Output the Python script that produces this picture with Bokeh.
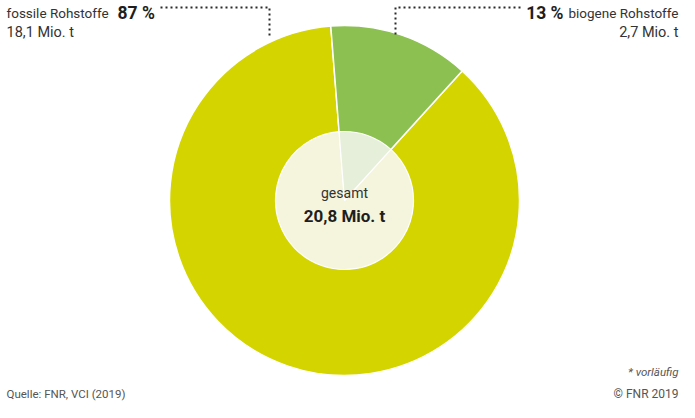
import math
from bokeh.plotting import figure
from bokeh.models import Range1d
from bokeh.core.properties import value
from bokeh.embed import file_html
from bokeh.resources import INLINE

# ---- data ----
categories = ["fossile Rohstoffe", "biogene Rohstoffe"]
amounts = [18.1, 2.7]           # Mio. t
percents = ["87 %", "13 %"]
amount_labels = ["18,1 Mio. t", "2,7 Mio. t"]
total_label = "20,8 Mio. t"
colors = ["#d4d500", "#8cc152"]
inner_colors = ["#f4f5dc", "#e6efd9"]

FONT = value("Roboto")
TXT = "#333333"
BOLD = "#1e1e1e"
FOOT = "#555555"

W, H = 679, 402
p = figure(width=W, height=H, output_backend="svg", toolbar_location=None,
           x_range=Range1d(8, 8 + W), y_range=Range1d(-(8 + H), -8),
           x_axis_location=None, y_axis_location=None)
p.min_border = 0
p.outline_line_color = None
p.grid.visible = False
p.background_fill_color = "white"
p.border_fill_color = "white"

cx, cy, R, r = 352, -208, 175, 69

# angles: biogene slice starts slightly left of top and runs clockwise
total = sum(amounts)
start_top = math.radians(94.5)
bio_span = amounts[1] / total * 2 * math.pi
bio_start = start_top - bio_span
bio_end = start_top
fos_start = bio_end
fos_end = bio_start + 2 * math.pi

starts = [fos_start, bio_start]
ends = [fos_end, bio_end]

p.wedge(x=[cx, cx], y=[cy, cy], radius=R, start_angle=starts, end_angle=ends,
        fill_color=colors, line_color="white", line_width=1.5)
p.wedge(x=[cx, cx], y=[cy, cy], radius=r, start_angle=starts, end_angle=ends,
        fill_color=inner_colors, line_color="white", line_width=1.2)

# center text
p.text(x=[cx], y=[-200], text=["gesamt"], text_align="center", text_baseline="alphabetic",
       text_font=FONT, text_font_size="14px", text_color=TXT)
p.text(x=[cx], y=[-223], text=[total_label], text_align="center", text_baseline="alphabetic",
       text_font=FONT, text_font_size="17px", text_font_style="bold", text_color=BOLD)

# left label
p.text(x=[14], y=[-20], text=[categories[0]], text_baseline="alphabetic",
       text_font=FONT, text_font_size="13.5px", text_color=TXT)
p.text(x=[125], y=[-20], text=[percents[0]], text_baseline="alphabetic",
       text_font=FONT, text_font_size="17.5px", text_font_style="bold", text_color=BOLD)
p.text(x=[14], y=[-40], text=[amount_labels[0]], text_baseline="alphabetic",
       text_font=FONT, text_font_size="14.5px", text_color=TXT)
p.line(x=[168, 277, 277], y=[-15, -15, -46], line_color="#2a2a2a", line_width=2, line_dash="2 3")

# right label
p.text(x=[686], y=[-20], text=[categories[1]], text_align="right", text_baseline="alphabetic",
       text_font=FONT, text_font_size="13.5px", text_color=TXT)
p.text(x=[571], y=[-20], text=[percents[1]], text_align="right", text_baseline="alphabetic",
       text_font=FONT, text_font_size="17.5px", text_font_style="bold", text_color=BOLD)
p.text(x=[686], y=[-40], text=[amount_labels[1]], text_align="right", text_baseline="alphabetic",
       text_font=FONT, text_font_size="14.5px", text_color=TXT)
p.line(x=[528, 403, 403], y=[-15, -15, -42], line_color="#2a2a2a", line_width=2, line_dash="2 3")

# footer
p.text(x=[14], y=[-401], text=["Quelle: FNR, VCI (2019)"], text_baseline="alphabetic",
       text_font=FONT, text_font_size="11.5px", text_color=FOOT)
p.text(x=[686], y=[-401], text=["© FNR 2019"], text_align="right", text_baseline="alphabetic",
       text_font=FONT, text_font_size="12px", text_color=FOOT)
p.text(x=[686], y=[-379], text=["* vorläufig"], text_align="right", text_baseline="alphabetic",
       text_font=FONT, text_font_size="11.5px", text_font_style="italic", text_color=FOOT)

open("out.html", "w").write(file_html(p, INLINE))
